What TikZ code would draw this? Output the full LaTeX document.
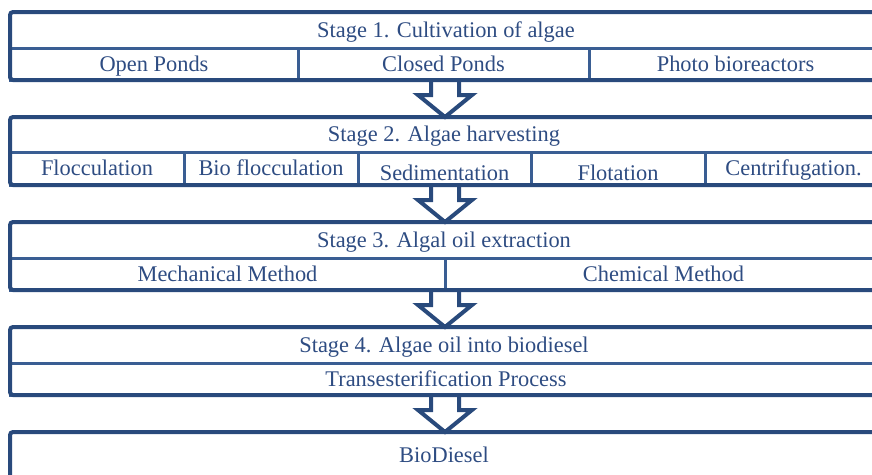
\documentclass[tikz,border=0pt]{standalone}
\usepackage{fontspec}
\setmainfont{Liberation Serif}
\usetikzlibrary{calc}

\definecolor{stageblue}{HTML}{294A7C}
\definecolor{cellblue}{HTML}{3A5E93}
\definecolor{labelblue}{HTML}{2E4C82}

\begin{document}
\begin{tikzpicture}[x=1pt, y=-1pt,
    outerbox/.style={draw=stageblue, line width=4pt, rounded corners=3pt},
    cellbox/.style={draw=cellblue, line width=3pt},
    lbl/.style={text=labelblue, font=\fontsize{22.4}{26}\selectfont, text height=15pt, text depth=5pt, inner sep=0pt, yshift=-2pt},
    blockarrow/.style={draw=stageblue, line width=4pt, line join=miter}]
    \useasboundingbox (0,0) rectangle (872,474);
    \clip (0,0) rectangle (872,474);

    % arrows between the stages
    \coordinate (b1) at (445,80);  \coordinate (t2) at (445,117);
    \coordinate (b2) at (445,185); \coordinate (t3) at (445,222);
    \coordinate (b3) at (445,290); \coordinate (t4) at (445,327);
    \coordinate (b4) at (445,395); \coordinate (t5) at (445,432);
    \foreach \from/\to in {b1/t2, b2/t3, b3/t4, b4/t5}
        \draw[blockarrow] ($(\from)+(-14,0)$) -- ($(\to)+(-14,-22)$) -- ($(\to)+(-27,-22)$)
            -- (\to) -- ($(\to)+(27,-22)$) -- ($(\to)+(14,-22)$) -- ($(\from)+(14,0)$);

    % stage 1
    \draw[cellbox] (10,48)  rectangle (298,80) node[midway, lbl] (open)   {Open Ponds};
    \draw[cellbox] (298,48) rectangle (589,80) node[midway, lbl] (closed) {Closed Ponds};
    \draw[cellbox] (589,48) rectangle (882,80) node[midway, lbl] (photo)  {Photo bioreactors};
    \draw[outerbox] (10,12) rectangle (884,80);
    \node[lbl] (s1) at (446,30) {Stage 1. Cultivation of algae};

    % stage 2
    \draw[cellbox] (10,152)  rectangle (184,185) node[midway, lbl] (floc)   {Flocculation};
    \draw[cellbox] (184,152) rectangle (358,185) node[midway, lbl] (biofloc) {Bio flocculation};
    \draw[cellbox] (358,152) rectangle (531,185) node[midway, lbl, yshift=-5pt] (sedi) {Sedimentation};
    \draw[cellbox] (531,152) rectangle (705,185) node[midway, lbl, yshift=-5pt] (flot) {Flotation};
    \draw[cellbox] (705,152) rectangle (882,185) node[midway, lbl] (centri) {Centrifugation.};
    \draw[outerbox] (10,117) rectangle (884,185);
    \node[lbl] (s2) at (444,134) {Stage 2. Algae harvesting};

    % stage 3
    \draw[cellbox] (10,258)  rectangle (445,290) node[midway, lbl] (mech) {Mechanical Method};
    \draw[cellbox] (445,258) rectangle (882,290) node[midway, lbl] (chem) {Chemical Method};
    \draw[outerbox] (10,222) rectangle (884,290);
    \node[lbl] (s3) at (444,240) {Stage 3. Algal oil extraction};

    % stage 4
    \draw[cellbox] (10,363) rectangle (882,395) node[midway, lbl] (trans) {Transesterification Process};
    \draw[outerbox] (10,327) rectangle (884,395);
    \node[lbl] (s4) at (444,345) {Stage 4. Algae oil into biodiesel};

    % result
    \draw[outerbox] (10,432) rectangle (884,500);
    \node[lbl] (bio) at (444,455) {BioDiesel};
\end{tikzpicture}
\end{document}
